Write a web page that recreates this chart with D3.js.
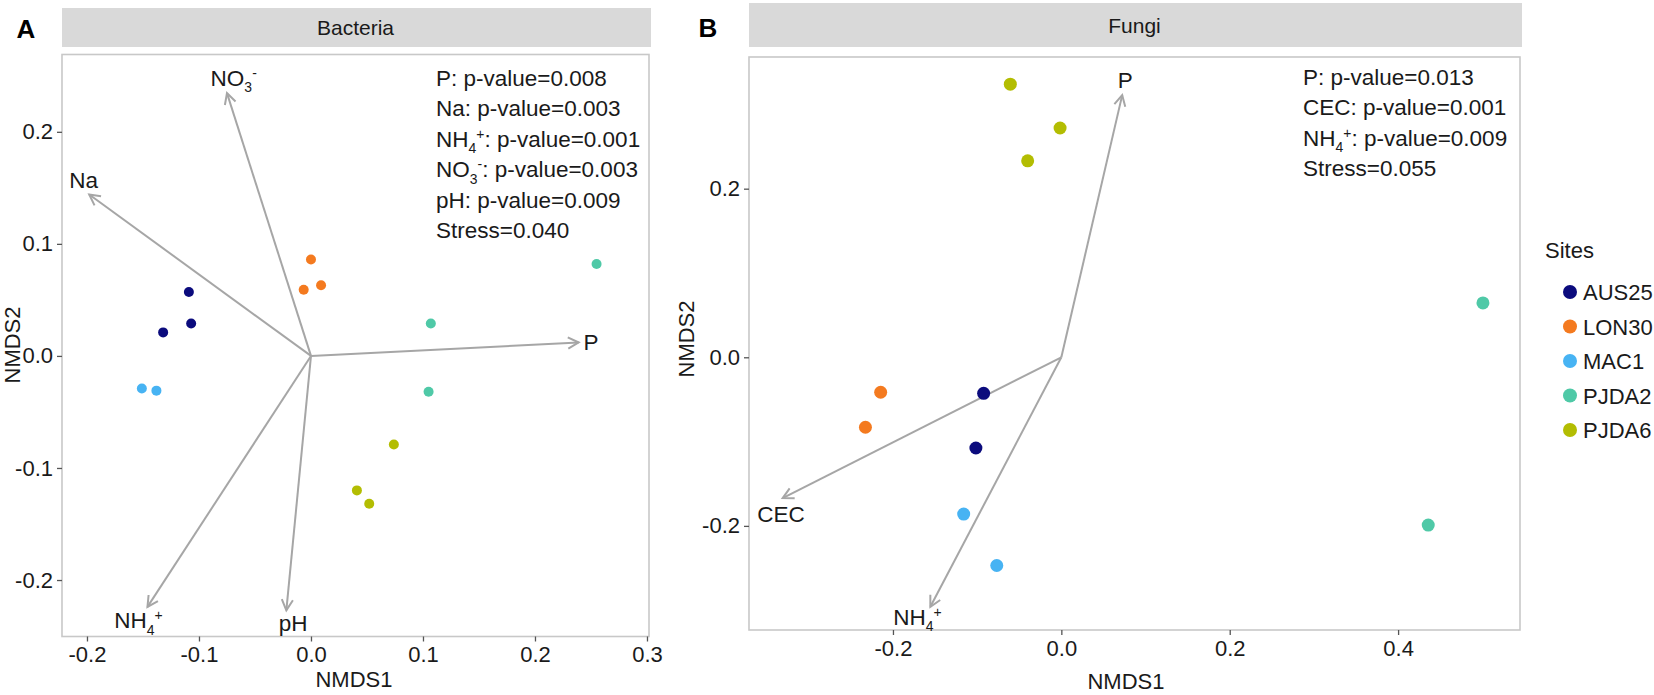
<!DOCTYPE html>
<html><head><meta charset="utf-8">
<script src="https://cdn.jsdelivr.net/npm/d3@7"></script>
<style>
body{margin:0;background:#fff}
svg text{font-family:"Liberation Sans",Arial,sans-serif;fill:#1a1a1a}
</style></head>
<body><svg id="chart" width="1654" height="695"></svg>
<script>
// ---------------- DATA ----------------
const sites = ["AUS25","LON30","MAC1","PJDA2","PJDA6"];
const siteColors = ["#0b0b7d","#f47a1f","#47b3f3","#4fc9a7","#b3bd02"];

// Bacteria NMDS scores
const bacteriaSite  = ["AUS25","AUS25","AUS25","LON30","LON30","LON30","MAC1","MAC1","PJDA2","PJDA2","PJDA2","PJDA6","PJDA6","PJDA6"];
const bacteriaNMDS1 = [-0.109,-0.107,-0.132, 0.000,-0.0065,0.009,-0.151,-0.138, 0.255,0.107,0.105, 0.074,0.041,0.052];
const bacteriaNMDS2 = [ 0.057, 0.029, 0.021, 0.086, 0.059,0.063,-0.029,-0.031, 0.082,0.029,-0.032,-0.079,-0.120,-0.132];
// Bacteria fitted vectors
const bacteriaVecName = ["NO_3^-","Na","P","NH_4^+","pH"];
const bacteriaVecX    = [-0.075,-0.198,0.239,-0.146,-0.022];
const bacteriaVecY    = [ 0.2345,0.144,0.012,-0.224,-0.227];
const bacteriaLabX    = [-0.069,-0.203,0.250,-0.154,-0.016];
const bacteriaLabY    = [ 0.248, 0.157,0.012,-0.236,-0.238];
const bacteriaStats   = ["P: p-value=0.008","Na: p-value=0.003","NH_4^+: p-value=0.001","NO_3^-: p-value=0.003","pH: p-value=0.009","Stress=0.040"];
const bacteriaXTicks  = [-0.2,-0.1,0.0,0.1,0.2,0.3];
const bacteriaYTicks  = [-0.2,-0.1,0.0,0.1,0.2];

// Fungi NMDS scores
const fungiSite  = ["AUS25","AUS25","LON30","LON30","MAC1","MAC1","PJDA2","PJDA2","PJDA6","PJDA6","PJDA6"];
const fungiNMDS1 = [-0.0923,-0.1015,-0.2146,-0.2327,-0.116,-0.0767,0.4358,0.5008,-0.0606,-0.0015,-0.040];
const fungiNMDS2 = [-0.0427,-0.1076,-0.0415,-0.083,-0.186,-0.247,-0.199,0.0645,0.324,0.272,0.233];
// Fungi fitted vectors
const fungiVecName = ["P","CEC","NH_4^+"];
const fungiVecX    = [0.0723,-0.331,-0.1556];
const fungiVecY    = [0.311,-0.167,-0.296];
const fungiLabX    = [0.076,-0.333,-0.171];
const fungiLabY    = [0.329,-0.186,-0.308];
const fungiStats   = ["P: p-value=0.013","CEC: p-value=0.001","NH_4^+: p-value=0.009","Stress=0.055"];
const fungiXTicks  = [-0.2,0.0,0.2,0.4];
const fungiYTicks  = [-0.2,0.0,0.2];

// ---------------- DRAW ----------------
const svg = d3.select("#chart");
const color = d3.scaleOrdinal().domain(sites).range(siteColors);
const FS = 22.5;

// rich text: "_x" subscript char, "^x" superscript char
function richText(sel, str, size){
  const parts = [];
  let i=0, buf="";
  while(i<str.length){
    const c=str[i];
    if((c==="_"||c==="^") && i+1<str.length){
      if(buf){parts.push({t:buf,k:0});buf="";}
      parts.push({t:str[i+1],k:c==="_"?1:-1}); i+=2;
    } else {buf+=c;i++;}
  }
  if(buf) parts.push({t:buf,k:0});
  let cur=0;
  parts.forEach(p=>{
    const target = p.k===1 ? size*0.28 : (p.k===-1 ? -size*0.36 : 0);
    sel.append("tspan").attr("dy",target-cur)
      .style("font-size",(p.k===0?size:size*0.62)+"px").text(p.t);
    cur=target;
  });
}

function arrowHead(g, x0,y0,x1,y1){
  const ang=Math.atan2(y1-y0,x1-x0), L=12, a=Math.PI/6.5;
  const p=[[x1-L*Math.cos(ang-a),y1-L*Math.sin(ang-a)],[x1,y1],[x1-L*Math.cos(ang+a),y1-L*Math.sin(ang+a)]];
  g.append("path").attr("d",d3.line()(p)).attr("fill","none")
    .attr("stroke","#a6a6a6").attr("stroke-width",2).attr("stroke-linejoin","miter");
}

function panel(cfg){
  const x=d3.scaleLinear().domain(cfg.xDom).range([cfg.L,cfg.R]);
  const y=d3.scaleLinear().domain(cfg.yDom).range([cfg.B,cfg.T]);
  const g=svg.append("g");
  // strip
  g.append("rect").attr("x",cfg.L).attr("y",cfg.stripT).attr("width",cfg.R-cfg.L+2)
    .attr("height",cfg.stripB-cfg.stripT).attr("fill","#d9d9d9");
  g.append("text").attr("x",(cfg.L+cfg.R)/2).attr("y",(cfg.stripT+cfg.stripB)/2+7.5)
    .attr("text-anchor","middle").style("font-size","21px").text(cfg.title);
  // panel letter
  g.append("text").attr("x",cfg.letterX).attr("y",cfg.letterY+9).attr("text-anchor","middle")
    .style("font-size","26px").style("font-weight","bold").style("fill","#000").text(cfg.letter);
  // border
  g.append("rect").attr("x",cfg.L).attr("y",cfg.T).attr("width",cfg.R-cfg.L).attr("height",cfg.B-cfg.T)
    .attr("fill","#fff").attr("stroke","#c8c8c8").attr("stroke-width",1.6);
  // axes
  const xa=g.append("g").attr("transform",`translate(0,${cfg.B})`)
    .call(d3.axisBottom(x).tickValues(cfg.xTicks).tickFormat(d=>d.toFixed(1)).tickSize(5).tickPadding(5));
  const ya=g.append("g").attr("transform",`translate(${cfg.L},0)`)
    .call(d3.axisLeft(y).tickValues(cfg.yTicks).tickFormat(d=>d.toFixed(1)).tickSize(5).tickPadding(4));
  [xa,ya].forEach(a=>{
    a.select(".domain").remove();
    a.selectAll(".tick line").attr("stroke","#555").attr("stroke-width",1.3);
    a.selectAll(".tick text").style("font-size","22px").style("font-family","Liberation Sans, Arial, sans-serif").attr("fill","#1a1a1a");
  });
  // axis titles
  g.append("text").attr("x",cfg.xTitleX).attr("y",cfg.xTitleY+8).attr("text-anchor","middle")
    .style("font-size","22px").text("NMDS1");
  g.append("text").attr("transform",`translate(${cfg.yTitleX+8},${cfg.yTitleY}) rotate(-90)`)
    .attr("text-anchor","middle").style("font-size","22px").text("NMDS2");
  // vectors
  const x0=x(0), y0=y(0);
  cfg.vx.forEach((vx,i)=>{
    const x1=x(vx), y1=y(cfg.vy[i]);
    g.append("line").attr("x1",x0).attr("y1",y0).attr("x2",x1).attr("y2",y1)
      .attr("stroke","#a6a6a6").attr("stroke-width",2);
    arrowHead(g,x0,y0,x1,y1);
    const t=g.append("text").attr("x",x(cfg.lx[i])).attr("y",y(cfg.ly[i])+8)
      .attr("text-anchor","middle");
    richText(t,cfg.vn[i],FS);
  });
  // points
  cfg.px.forEach((px,i)=>{
    g.append("circle").attr("cx",x(px)).attr("cy",y(cfg.py[i])).attr("r",cfg.r)
      .attr("fill",color(cfg.ps[i]));
  });
  // stats
  cfg.stats.forEach((s,i)=>{
    const t=g.append("text").attr("x",cfg.statX).attr("y",cfg.statY+i*30.4);
    richText(t,s,FS);
  });
}

panel({title:"Bacteria",letter:"A",letterX:26,letterY:29,
  L:62,R:649,T:54.5,B:636.5,stripT:8,stripB:47,
  xDom:[-0.2223,0.3018],yDom:[-0.2504,0.269],
  xTicks:bacteriaXTicks,yTicks:bacteriaYTicks,
  xTitleX:354,xTitleY:679,yTitleX:12,yTitleY:345,
  vx:bacteriaVecX,vy:bacteriaVecY,vn:bacteriaVecName,lx:bacteriaLabX,ly:bacteriaLabY,
  px:bacteriaNMDS1,py:bacteriaNMDS2,ps:bacteriaSite,r:5,
  stats:bacteriaStats,statX:436,statY:86});

panel({title:"Fungi",letter:"B",letterX:708,letterY:28,
  L:749,R:1520,T:57,B:630,stripT:3,stripB:47,
  xDom:[-0.371,0.5448],yDom:[-0.3235,0.3562],
  xTicks:fungiXTicks,yTicks:fungiYTicks,
  xTitleX:1126,xTitleY:681,yTitleX:686,yTitleY:339,
  vx:fungiVecX,vy:fungiVecY,vn:fungiVecName,lx:fungiLabX,ly:fungiLabY,
  px:fungiNMDS1,py:fungiNMDS2,ps:fungiSite,r:6.5,
  stats:fungiStats,statX:1303,statY:85});

// legend
const lg=svg.append("g");
lg.append("text").attr("x",1545).attr("y",258).style("font-size","22px").text("Sites");
sites.forEach((s,i)=>{
  const cy=292+i*34.5;
  lg.append("circle").attr("cx",1570).attr("cy",cy).attr("r",7).attr("fill",color(s));
  lg.append("text").attr("x",1583).attr("y",cy+8).style("font-size","22px").text(s);
});
</script></body></html>
